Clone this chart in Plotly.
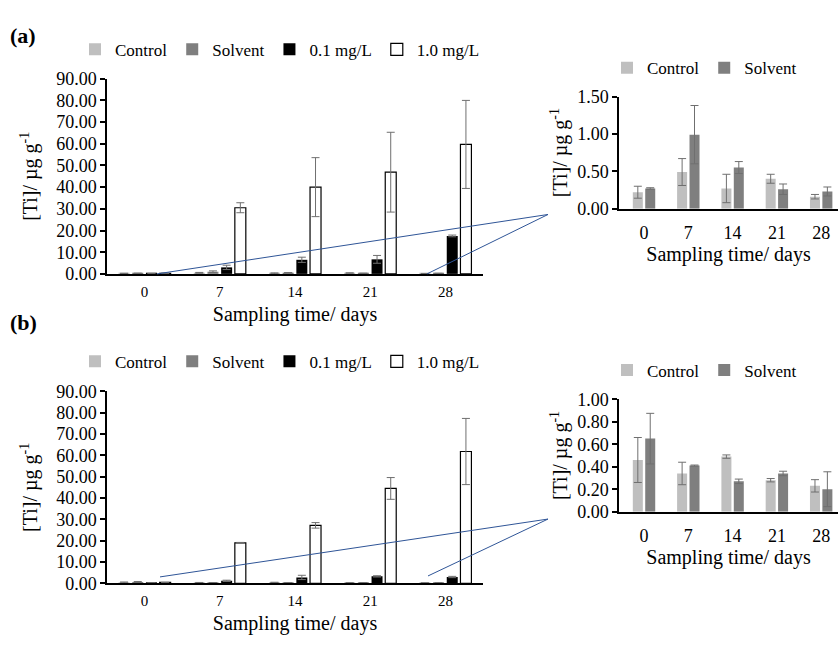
import plotly.graph_objects as go

# ---------------- data ----------------
days = ["0", "7", "14", "21", "28"]
series_names = ["Control", "Solvent", "0.1 mg/L", "1.0 mg/L"]

# Panel (a)
a_control = [0.22, 0.49, 0.27, 0.40, 0.16]
a_control_err = [0.08, 0.18, 0.19, 0.06, 0.03]
a_solvent = [0.27, 0.99, 0.55, 0.26, 0.23]
a_solvent_err = [0.01, 0.39, 0.08, 0.07, 0.06]
a_low = [0.15, 3.0, 6.5, 6.7, 17.5]
a_low_err = [0.05, 1.0, 1.2, 1.8, 0.4]
a_high = [0.25, 30.5, 40.0, 46.9, 59.7]
a_high_err = [0.05, 2.3, 13.6, 18.4, 20.3]

# Panel (b)
b_control = [0.46, 0.34, 0.49, 0.28, 0.23]
b_control_err = [0.20, 0.10, 0.015, 0.015, 0.055]
b_solvent = [0.65, 0.41, 0.27, 0.34, 0.20]
b_solvent_err = [0.225, 0.005, 0.02, 0.02, 0.155]
b_low = [0.25, 1.2, 2.8, 3.3, 3.0]
b_low_err = [0.05, 0.3, 1.0, 0.3, 0.3]
b_high = [0.45, 19.0, 27.2, 44.5, 61.8]
b_high_err = [0.05, 0.2, 1.3, 5.1, 15.5]

# ---------------- styling ----------------
W, H = 838, 647
FONT = "Liberation Serif"
fills = ["#bfbfbf", "#7f7f7f", "#000000", "#ffffff"]
lines = ["#bfbfbf", "#7f7f7f", "#000000", "#000000"]
ERR_COLOR = "#6f6f6f"

def px_x(p):
    return p / W

def px_y(p):
    return 1 - p / H

fig = go.Figure()

def add_group(xa, ya, legend, vals, errs, names, slot, width):
    n = len(vals)
    for i, (v, e, nm) in enumerate(zip(vals, errs, names)):
        off = (i - (n - 1) / 2) * slot - width / 2
        fig.add_trace(go.Bar(
            x=days, y=v, name=nm,
            xaxis=xa, yaxis=ya, legend=legend,
            offset=off, width=width,
            marker=dict(color=fills[i], line=dict(color=lines[i], width=1.2 if i == 3 else 0)),
            error_y=dict(type="data", array=e, visible=True, color=ERR_COLOR, thickness=1, width=4),
            showlegend=True,
        ))

# main slot/width in category units
MAIN_SLOT, MAIN_W = 0.182, 0.146
INS_SLOT, INS_W = 0.28, 0.226

add_group("x", "y", "legend", [a_control, a_solvent, a_low, a_high],
          [a_control_err, a_solvent_err, a_low_err, a_high_err], series_names, MAIN_SLOT, MAIN_W)
add_group("x2", "y2", "legend2", [a_control, a_solvent], [a_control_err, a_solvent_err],
          series_names[:2], INS_SLOT, INS_W)
add_group("x3", "y3", "legend3", [b_control, b_solvent, b_low, b_high],
          [b_control_err, b_solvent_err, b_low_err, b_high_err], series_names, MAIN_SLOT, MAIN_W)
add_group("x4", "y4", "legend4", [b_control, b_solvent], [b_control_err, b_solvent_err],
          series_names[:2], INS_SLOT, INS_W)

ytitle = "[Ti]/ µg g<sup>-1</sup>"
xtitle = "Sampling time/ days"

def xax(domain, rng, tick_size, anchor, standoff, pad):
    return dict(domain=domain, range=rng, anchor=anchor, type="category",
                showline=True, linecolor="black", linewidth=1.5,
                ticks="outside", ticklen=pad, tickcolor="rgba(0,0,0,0)",
                showgrid=False, zeroline=False,
                tickfont=dict(family=FONT, size=tick_size, color="black"),
                title=dict(text=xtitle, font=dict(family=FONT, size=20, color="black"), standoff=standoff))

def yax(domain, rng, dtick, anchor, standoff):
    return dict(domain=domain, range=rng, dtick=dtick, tick0=0, anchor=anchor,
                showline=True, linecolor="black", linewidth=1.5, ticks="outside", ticklen=5,
                tickcolor="black", tickwidth=1.5, showgrid=False, zeroline=False,
                tickformat=".2f",
                tickfont=dict(family=FONT, size=18, color="black"),
                title=dict(text=ytitle, font=dict(family=FONT, size=20, color="black"), standoff=standoff))

main_x = [px_x(107), px_x(483)]
ins_x = [px_x(619), 1.0]

def legend(xp, yp):
    return dict(orientation="h", x=px_x(xp), y=px_y(yp), xanchor="left", yanchor="middle",
                font=dict(family=FONT, size=17, color="black"), bgcolor="rgba(0,0,0,0)",
                itemwidth=30, traceorder="normal", itemclick=False)

fig.update_layout(
    width=W, height=H,
    margin=dict(l=0, r=0, t=0, b=0),
    paper_bgcolor="white", plot_bgcolor="white",
    barmode="overlay",
    font=dict(family=FONT, color="black"),
    xaxis=xax(main_x, [-0.5, 4.5], 15, "y", 8, 3),
    yaxis=yax([px_y(272.3), px_y(70.9)], [0, 90], 10, "x", 13),
    xaxis2=xax(ins_x, [-0.565, 4.38], 18, "y2", 3, 7),
    yaxis2=yax([px_y(205), px_y(89.3)], [0, 1.5], 0.5, "x2", 4),
    xaxis3=xax(main_x, [-0.5, 4.5], 15, "y3", 8, 3),
    yaxis3=yax([px_y(591.7), px_y(393.5)], [0, 90], 10, "x3", 13),
    xaxis4=xax(ins_x, [-0.565, 4.38], 18, "y4", 3, 7),
    yaxis4=yax([px_y(517.7), px_y(401.7)], [0, 1.0], 0.2, "x4", 4),
    legend=legend(75, 41),
    legend2=legend(607, 60),
    legend3=legend(75, 363),
    legend4=legend(607, 372),
    showlegend=True,
)

# zoom (connector) lines from main chart to inset
BLUE = "#2f5597"
for (x0, y0, x1, y1) in [(157, 272.3, 548, 211), (427, 272.3, 548, 211),
                         (160, 585, 548, 525.3), (428, 584, 548, 525.3)]:
    fig.add_shape(type="line", xref="paper", yref="paper",
                  x0=px_x(x0), y0=px_y(y0), x1=px_x(x1), y1=px_y(y1),
                  line=dict(color=BLUE, width=1))

# panel labels
for lab, yp in [("(a)", 26), ("(b)", 322)]:
    fig.add_annotation(text="<b>%s</b>" % lab, xref="paper", yref="paper",
                       x=px_x(8), y=px_y(yp), xanchor="left", yanchor="middle",
                       showarrow=False, font=dict(family=FONT, size=22, color="black"))

fig.write_html("out.html", config={"displayModeBar": False},
               post_script="document.body.style.margin='0';document.body.style.overflow='hidden';")
